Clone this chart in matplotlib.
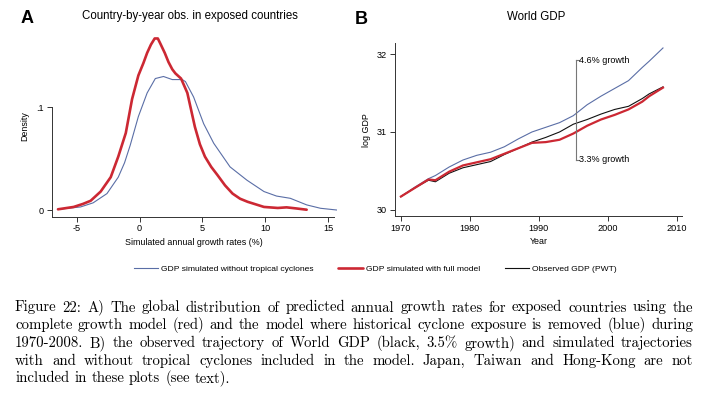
import numpy as np
import matplotlib
matplotlib.use("Agg")
import matplotlib.pyplot as plt

plt.rcParams['font.family'] = ['Liberation Sans', 'DejaVu Sans']
plt.rcParams['axes.unicode_minus'] = False

# panel A: kernel density of simulated growth rates
red_x = [-6.5, -5.25, -4.5, -3.9, -3.1, -2.3, -1.7, -1.1, -0.6, -0.1, 0.3, 0.6, 0.9, 1.2, 1.45,
         1.65, 2.0, 2.3, 2.6, 2.85, 3.3, 3.8, 4.4, 4.8, 5.2, 5.7, 6.2, 6.8, 7.4, 8.0, 8.6,
         9.9, 11.0, 11.7, 12.5, 13.3]
red_y = [0.0007, 0.003, 0.006, 0.009, 0.018, 0.032, 0.052, 0.075, 0.108, 0.131, 0.143, 0.153,
         0.161, 0.167, 0.167, 0.162, 0.153, 0.144, 0.137, 0.133, 0.128, 0.114, 0.081, 0.064,
         0.052, 0.042, 0.034, 0.024, 0.016, 0.011, 0.008, 0.003, 0.002, 0.0026, 0.0015, 0.0003]
blue_x = [-6.5, -4.7, -3.7, -2.6, -1.7, -1.2, -0.75, -0.1, 0.6, 1.25, 1.9, 2.6, 3.4,
          3.65, 4.3, 5.1, 5.9, 7.2, 8.55, 9.9, 10.9, 12.0, 13.3, 14.4, 15.7]
blue_y = [0.0007, 0.003, 0.007, 0.016, 0.032, 0.046, 0.063, 0.091, 0.114, 0.128, 0.130, 0.127,
          0.127, 0.125, 0.110, 0.084, 0.065, 0.042, 0.029, 0.018, 0.0136, 0.0114, 0.005, 0.0017, 0.0]

# panel B: log world GDP
years = [1970, 1972, 1974, 1975, 1977, 1979, 1981, 1983, 1985, 1987, 1989,
         1991, 1993, 1995, 1997, 1999, 2001, 2003, 2005, 2006, 2008]
gdp_no_tc = [30.17, 30.29, 30.40, 30.44, 30.55, 30.64, 30.70, 30.74, 30.81, 30.91, 31.00,
             31.06, 31.12, 31.21, 31.35, 31.46, 31.56, 31.66, 31.83, 31.91, 32.08]
gdp_full = [30.17, 30.28, 30.39, 30.38, 30.49, 30.57, 30.61, 30.65, 30.72, 30.79, 30.86,
            30.87, 30.90, 30.98, 31.08, 31.16, 31.22, 31.29, 31.39, 31.46, 31.57]
gdp_obs = [30.17, 30.28, 30.38, 30.36, 30.47, 30.54, 30.58, 30.62, 30.71, 30.79, 30.87,
           30.93, 31.00, 31.10, 31.16, 31.23, 31.29, 31.33, 31.43, 31.49, 31.58]

legend_labels = ['GDP simulated without tropical cyclones',
                 'GDP simulated with full model', 'Observed GDP (PWT)']

caption = [
    "Figure 22: A) The global distribution of predicted annual growth rates for exposed countries using the",
    "complete growth model (red) and the model where historical cyclone exposure is removed (blue) during",
    "1970-2008. B) the observed trajectory of World GDP (black, 3.5% growth) and simulated trajectories",
    "with and without tropical cyclones included in the model.  Japan, Taiwan and Hong-Kong are not",
    "included in these plots (see text).",
]

BLUE = '#5a6ea6'
RED = '#cc2833'
AX = '#333333'
W, H = 706, 394

fig = plt.figure(figsize=(W / 100, H / 100), dpi=100)


def px_axes(l, t, r, b):
    return fig.add_axes([l / W, 1 - b / H, (r - l) / W, (b - t) / H])


def stata_axes(ax):
    for s in ['top', 'right']:
        ax.spines[s].set_visible(False)
    for s in ['left', 'bottom']:
        ax.spines[s].set_color(AX)
        ax.spines[s].set_linewidth(0.7)
    ax.tick_params(direction='out', length=3.5, width=0.7, color=AX,
                   labelsize=6.6, pad=2)
    ax.patch.set_alpha(0)


# ---- panel A
ax1 = px_axes(51.7, 35.4, 336.8, 216.7)
stata_axes(ax1)
l_blue, = ax1.plot(blue_x, blue_y, color=BLUE, lw=0.8)
l_red, = ax1.plot(red_x, red_y, color=RED, lw=1.9, solid_capstyle='round')
ax1.set_xlim(-7, 15.7)
ax1.set_ylim(-0.0065, 0.17)
ax1.set_xticks([-5, 0, 5, 10, 15])
ax1.set_yticks([0, 0.1])
ax1.set_yticklabels(['0', '.1'])
ax1.spines['left'].set_bounds(-0.0065, 0.1)
ax1.spines['bottom'].set_bounds(-7, 15.45)
ax1.set_xlabel('Simulated annual growth rates (%)', fontsize=6.4, labelpad=3)
ax1.set_ylabel('Density', fontsize=6.4, labelpad=5)
fig.text(190 / W, 1 - 16 / H, 'Country-by-year obs. in exposed countries',
         ha='center', va='center', fontsize=8.3)
fig.text(26.7 / W, 1 - 18.7 / H, 'A', ha='center', va='center',
         fontsize=13, fontweight='bold')

# ---- panel B
ax2 = px_axes(394.7, 43.3, 682.3, 216)
stata_axes(ax2)
ax2.plot(years, gdp_no_tc, color=BLUE, lw=0.8)
l_black, = ax2.plot(years, gdp_obs, color='#111111', lw=0.8)
ax2.plot(years, gdp_full, color=RED, lw=1.6)
ax2.set_xlim(1969.1, 2010.8)
ax2.set_ylim(29.92, 32.14)
ax2.set_xticks([1970, 1980, 1990, 2000, 2010])
ax2.set_yticks([30, 31, 32])
ax2.set_xlabel('Year', fontsize=6.4, labelpad=3)
ax2.set_ylabel('log GDP', fontsize=6.4, labelpad=4)

# growth-rate bracket
bx = 1995.4
ax2.plot([bx, bx], [30.64, 31.92], color='#777777', lw=0.8)
ax2.plot([bx, bx + 0.4], [31.92, 31.92], color='#777777', lw=0.8)
ax2.plot([bx, bx + 0.4], [30.64, 30.64], color='#777777', lw=0.8)
ax2.text(bx + 0.45, 31.92, '4.6% growth', fontsize=6.5, va='center', ha='left')
ax2.text(bx + 0.45, 30.64, '3.3% growth', fontsize=6.5, va='center', ha='left')
fig.text(536 / W, 1 - 16.7 / H, 'World GDP', ha='center', va='center', fontsize=8.3)
fig.text(361 / W, 1 - 19 / H, 'B', ha='center', va='center',
         fontsize=13, fontweight='bold')

# ---- legend
fig.legend([l_blue, l_red, l_black], legend_labels, loc='center',
           bbox_to_anchor=(375.5 / W, 1 - 269 / H), ncol=3, frameon=False,
           fontsize=6.1, handlelength=2.9, handletextpad=0.35, columnspacing=2.9)

# ---- justified caption in Computer Modern
r = fig.canvas.get_renderer()
x0, x1 = 15, 693
base0, dy = 311.5, 17.7

# fit font size so the widest line, with plain spaces, spans the text block
probe = [fig.text(0, 0, ln, fontsize=10, family='cmr10') for ln in caption[:-1]]
widest = max(t.get_window_extent(r).width for t in probe)
for t in probe:
    t.remove()
fs = 10 * (x1 - x0) / widest * 0.99

for i, line in enumerate(caption):
    words = [w for w in line.split(' ') if w]
    y = 1 - (base0 + i * dy) / H
    texts = [fig.text(0, y, w, fontsize=fs, family='cmr10', va='baseline')
             for w in words]
    widths = [t.get_window_extent(r).width for t in texts]
    if i < len(caption) - 1:
        gap = (x1 - x0 - sum(widths)) / (len(words) - 1)
    else:
        gap = fs * 100 / 72 * 0.333
    x = x0
    for t, w in zip(texts, widths):
        t.set_x(x / W)
        x += w + gap

fig.savefig('out.png', dpi=100)
